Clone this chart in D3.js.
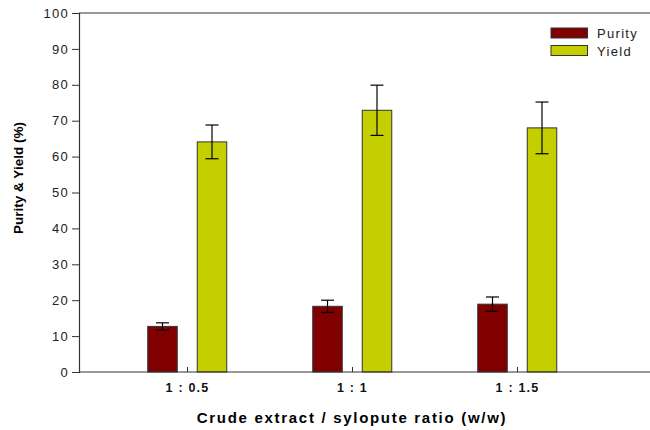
<!DOCTYPE html>
<html>
<head>
<meta charset="utf-8">
<script src="https://cdn.jsdelivr.net/npm/d3@7"></script>
<style>
  body { margin: 0; background: #fff; }
  text { font-family: "Liberation Sans", Arial, sans-serif; }
</style>
</head>
<body>
<svg id="chart" width="650" height="430"></svg>
<script>
var categories = ["1 : 0.5", "1 : 1", "1 : 1.5"];
var seriesNames = ["Purity", "Yield"];
var purity = [12.7, 18.3, 18.9];
var purityErr = [1.0, 1.7, 2.0];
var yieldVals = [64.1, 72.9, 68.0];
var yieldErr = [4.7, 7.0, 7.2];
var yTicks = [0, 10, 20, 30, 40, 50, 60, 70, 80, 90, 100];

var colors = { Purity: "#800000", Yield: "#c5cf00" };

var margin = { left: 79, top: 13, right: 0 };
var width = 650 - margin.left;
var height = 359;

var svg = d3.select("#chart");
var g = svg.append("g")
    .attr("transform", "translate(" + margin.left + "," + margin.top + ")");

var x = d3.scalePoint().domain(categories).range([108, 438]);
var y = d3.scaleLinear().domain([0, 100]).range([height, 0]);

var barW = 29.5;
var offset = { Purity: -24.5, Yield: 25 };

var rows = [];
categories.forEach(function(c, i) {
  rows.push({ cat: c, key: "Purity", v: purity[i], e: purityErr[i] });
  rows.push({ cat: c, key: "Yield", v: yieldVals[i], e: yieldErr[i] });
});

// frame (top line only, bottom comes from x axis)
g.append("line").attr("x1", 0).attr("x2", width).attr("y1", 0).attr("y2", 0)
  .attr("stroke", "#333").attr("stroke-width", 1.2);

// bars
g.selectAll(".bar").data(rows).enter().append("rect")
  .attr("class", "bar")
  .attr("x", function(d) { return x(d.cat) + offset[d.key] - barW / 2; })
  .attr("y", function(d) { return y(d.v); })
  .attr("width", barW)
  .attr("height", function(d) { return height - y(d.v); })
  .attr("fill", function(d) { return colors[d.key]; })
  .attr("stroke", "#333")
  .attr("stroke-width", 1);

// error bars
var eb = g.selectAll(".err").data(rows).enter().append("g")
  .attr("class", "err")
  .attr("stroke", "#000").attr("stroke-width", 1.2);
eb.append("line")
  .attr("x1", function(d) { return x(d.cat) + offset[d.key]; })
  .attr("x2", function(d) { return x(d.cat) + offset[d.key]; })
  .attr("y1", function(d) { return y(d.v + d.e); })
  .attr("y2", function(d) { return y(d.v - d.e); });
[1, -1].forEach(function(s) {
  eb.append("line")
    .attr("x1", function(d) { return x(d.cat) + offset[d.key] - 6.5; })
    .attr("x2", function(d) { return x(d.cat) + offset[d.key] + 6.5; })
    .attr("y1", function(d) { return y(d.v + s * d.e); })
    .attr("y2", function(d) { return y(d.v + s * d.e); });
});

// y axis
var yAxis = g.append("g")
  .call(d3.axisLeft(y).tickValues(yTicks).tickSize(7).tickPadding(3).tickFormat(d3.format("d")));
yAxis.select(".domain").attr("stroke", "#333").attr("stroke-width", 1.2);
yAxis.selectAll(".tick line").attr("stroke", "#333");
yAxis.selectAll(".tick text").attr("font-size", 13).attr("fill", "#222")
  .style("letter-spacing", "1.3px")
  .style("font-family", "'Liberation Sans', Arial, sans-serif");

// x axis
var xAxis = g.append("g")
  .attr("transform", "translate(0," + height + ")")
  .call(d3.axisBottom(x).tickSize(-5).tickPadding(11));
xAxis.select(".domain").attr("d", "M0,0H" + width).attr("stroke", "#333").attr("stroke-width", 1.2);
xAxis.selectAll(".tick line").attr("stroke", "#333");
xAxis.selectAll(".tick text").attr("font-size", 12.5).attr("font-weight", "bold").attr("fill", "#111")
  .style("letter-spacing", "1.2px")
  .style("font-family", "'Liberation Sans', Arial, sans-serif");

// axis titles
svg.append("text")
  .attr("transform", "translate(23,178) rotate(-90)")
  .attr("text-anchor", "middle")
  .attr("font-size", 13.5).attr("font-weight", "bold")
  .text("Purity & Yield (%)");

svg.append("text")
  .attr("x", margin.left + x(categories[1]))
  .attr("y", 423)
  .attr("text-anchor", "middle")
  .attr("font-size", 15).attr("font-weight", "bold")
  .style("letter-spacing", "1.7px")
  .text("Crude extract / sylopute ratio (w/w)");

// legend
var legend = svg.append("g").attr("transform", "translate(551,28)");
seriesNames.forEach(function(name, i) {
  var row = legend.append("g").attr("transform", "translate(0," + (i * 17.5) + ")");
  row.append("rect").attr("width", 36.5).attr("height", 10)
    .attr("fill", colors[name]).attr("stroke", "#333").attr("stroke-width", 1);
  row.append("text").attr("x", 46).attr("y", 10).attr("font-size", 13)
    .style("letter-spacing", "1.3px").attr("fill", "#222").text(name);
});
</script>
</body>
</html>
